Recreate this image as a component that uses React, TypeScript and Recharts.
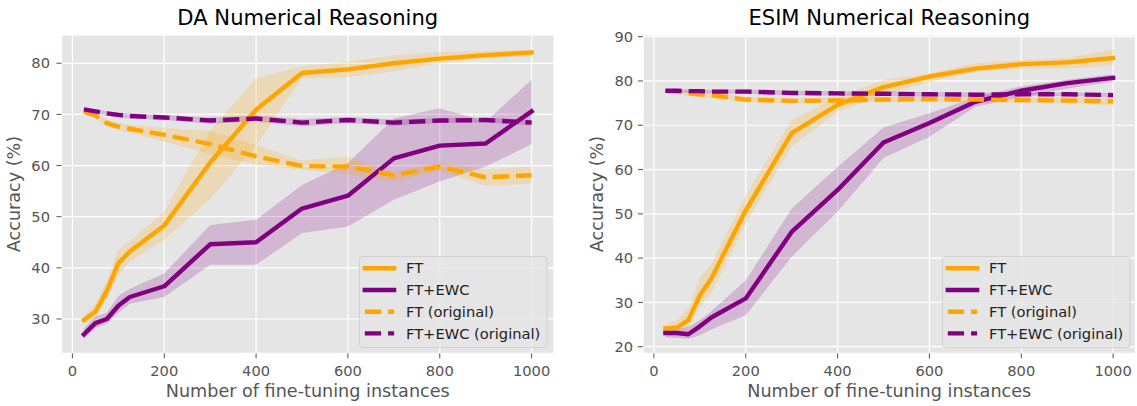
import React from 'react';
import { ComposedChart, Line, Area, XAxis, YAxis, CartesianGrid } from 'recharts';

const instances = [25, 50, 75, 100, 125, 200, 300, 400, 500, 600, 700, 800, 900, 1000];
const xTicks = [0, 200, 400, 600, 800, 1000];
const daTicks = [30, 40, 50, 60, 70, 80];
const esimTicks = [20, 30, 40, 50, 60, 70, 80, 90];
const legendLabels = ['FT', 'FT+EWC', 'FT (original)', 'FT+EWC (original)'];

// DA numerical reasoning
const daFt = [29.8, 31.4, 35.5, 40.9, 43.2, 48.3, 60.6, 70.9, 78.1, 78.8, 80.0, 80.9, 81.6, 82.1];
const daFtLow = [29.0, 30.2, 33.8, 38.5, 41.2, 45.5, 53.5, 64.0, 77.0, 77.3, 78.4, 80.0, 81.0, 81.4];
const daFtHigh = [30.6, 33.0, 37.5, 43.6, 45.2, 51.0, 66.8, 77.1, 79.4, 80.3, 81.5, 82.2, 82.4, 82.7];
const daEwc = [27.0, 29.2, 30.0, 32.6, 34.3, 36.4, 44.6, 45.0, 51.6, 54.1, 61.4, 63.9, 64.3, 70.6];
const daEwcLow = [26.1, 28.3, 29.0, 31.2, 33.0, 34.3, 40.6, 40.6, 46.8, 48.1, 53.3, 56.9, 59.8, 64.2];
const daEwcHigh = [28.2, 30.5, 31.2, 34.5, 35.9, 38.9, 48.4, 49.4, 56.2, 60.5, 69.2, 71.2, 68.6, 76.8];
const daFtOrig = [70.5, 69.8, 68.3, 67.6, 67.2, 66.0, 64.2, 61.8, 59.9, 59.8, 58.1, 59.8, 57.7, 58.1];
const daFtOrigLow = [70.2, 69.3, 67.6, 66.9, 66.4, 64.7, 62.2, 60.2, 59.2, 58.3, 56.8, 59.0, 56.0, 56.5];
const daFtOrigHigh = [70.8, 70.3, 69.0, 68.3, 68.0, 67.4, 66.8, 64.0, 61.0, 61.7, 58.8, 60.6, 59.2, 59.8];
const daEwcOrig = [71.0, 70.6, 70.2, 69.9, 69.7, 69.4, 68.8, 69.2, 68.4, 68.9, 68.4, 68.8, 68.9, 68.4];
const daEwcOrigLow = [70.6, 70.2, 69.8, 69.4, 69.2, 68.9, 68.2, 68.6, 67.7, 68.3, 67.8, 68.3, 68.4, 67.9];
const daEwcOrigHigh = [71.4, 71.0, 70.6, 70.4, 70.2, 69.9, 69.4, 69.8, 69.1, 69.5, 69.0, 69.3, 69.4, 68.9];

// ESIM numerical reasoning
const esimFt = [24.1, 24.3, 26.0, 31.6, 35.4, 50.8, 68.2, 74.6, 78.6, 81.0, 82.8, 83.8, 84.2, 85.2];
const esimFtLow = [23.3, 23.4, 24.5, 29.0, 32.0, 47.8, 65.2, 73.0, 76.8, 79.8, 82.0, 82.8, 82.8, 83.5];
const esimFtHigh = [25.2, 26.0, 28.6, 35.4, 38.8, 54.2, 71.2, 76.4, 80.2, 81.7, 84.0, 84.7, 85.2, 87.1];
const esimEwc = [23.1, 23.1, 22.8, 24.6, 26.6, 30.9, 45.9, 55.4, 66.1, 70.5, 75.3, 77.8, 79.5, 80.7];
const esimEwcLow = [22.1, 22.0, 21.8, 22.6, 23.9, 27.1, 40.3, 50.5, 62.6, 67.4, 74.2, 76.4, 78.3, 79.8];
const esimEwcHigh = [23.8, 24.0, 24.5, 26.0, 28.0, 35.0, 51.2, 60.6, 69.5, 72.7, 76.3, 78.8, 80.3, 81.5];
const esimFtOrig = [77.7, 77.6, 77.2, 77.0, 76.8, 75.8, 75.5, 75.6, 75.8, 75.9, 75.8, 75.7, 75.6, 75.4];
const esimFtOrigLow = [77.4, 77.2, 76.6, 76.3, 76.1, 75.2, 74.9, 75.0, 75.2, 75.3, 75.2, 75.0, 74.9, 74.6];
const esimFtOrigHigh = [78.0, 78.0, 77.8, 77.7, 77.5, 76.4, 76.1, 76.2, 76.4, 76.5, 76.4, 76.4, 76.3, 76.2];
const esimEwcOrig = [77.8, 77.8, 77.7, 77.7, 77.6, 77.6, 77.3, 77.2, 77.1, 77.0, 76.9, 77.0, 77.0, 76.8];
const esimEwcOrigLow = [77.4, 77.4, 77.3, 77.3, 77.2, 77.1, 76.8, 76.7, 76.6, 76.5, 76.4, 76.6, 76.6, 76.3];
const esimEwcOrigHigh = [78.2, 78.2, 78.1, 78.1, 78.0, 78.1, 77.8, 77.7, 77.6, 77.5, 77.4, 77.4, 77.4, 77.3];

const ORANGE = '#FFA500';
const PURPLE = '#800080';
const FONT = '"DejaVu Sans", sans-serif';
const LW = 4.4;
const DASH = '16.3 7';

const buildRows = (
  ft: number[], ftLo: number[], ftHi: number[],
  ewc: number[], ewcLo: number[], ewcHi: number[],
  fto: number[], ftoLo: number[], ftoHi: number[],
  ewco: number[], ewcoLo: number[], ewcoHi: number[]
) =>
  instances.map((x, i) => ({
    x,
    ft: ft[i],
    ftBand: [ftLo[i], ftHi[i]],
    ewc: ewc[i],
    ewcBand: [ewcLo[i], ewcHi[i]],
    ftOrig: fto[i],
    ftOrigBand: [ftoLo[i], ftoHi[i]],
    ewcOrig: ewco[i],
    ewcOrigBand: [ewcoLo[i], ewcoHi[i]],
  }));

const daRows = buildRows(daFt, daFtLow, daFtHigh, daEwc, daEwcLow, daEwcHigh,
  daFtOrig, daFtOrigLow, daFtOrigHigh, daEwcOrig, daEwcOrigLow, daEwcOrigHigh);
const esimRows = buildRows(esimFt, esimFtLow, esimFtHigh, esimEwc, esimEwcLow, esimEwcHigh,
  esimFtOrig, esimFtOrigLow, esimFtOrigHigh, esimEwcOrig, esimEwcOrigLow, esimEwcOrigHigh);

const HEIGHT = 406;
const PLOT_TOP = 35;
const PLOT_BOTTOM = 353.3;
const PLOT_W = 492.5;

const LegendBox: React.FC<{ left: number; top: number }> = ({ left, top }) => {
  const styles = [
    { color: ORANGE, dash: undefined },
    { color: PURPLE, dash: undefined },
    { color: ORANGE, dash: DASH },
    { color: PURPLE, dash: DASH },
  ];
  return (
    <svg width={190} height={93} style={{ position: 'absolute', left, top, overflow: 'visible' }}>
      <rect x={0.5} y={0.5} width={187.5} height={91} rx={3} fill="#E5E5E5" fillOpacity={0.8}
        stroke="#CCCCCC" strokeOpacity={0.8} />
      {legendLabels.map((label, i) => {
        const cy = 12.3 + i * 21.7;
        const s = styles[i];
        return (
          <g key={label}>
            <line x1={5.8} x2={35.1} y1={cy} y2={cy} stroke={s.color} strokeWidth={LW}
              strokeDasharray={s.dash} strokeLinecap={s.dash ? 'butt' : 'square'} />
            <text x={47} y={cy} dy="0.35em" fontSize={14.67} fontFamily={FONT} fill="#222">{label}</text>
          </g>
        );
      })}
    </svg>
  );
};

interface PanelProps {
  title: string;
  rows: ReturnType<typeof buildRows>;
  yDomain: [number, number];
  yTicks: number[];
  left: number;
  width: number;
  yAxisWidth: number;
  yTickMargin: number;
  yLabelX: number;
  legendLeft: number;
}

const Panel: React.FC<PanelProps> = ({
  title, rows, yDomain, yTicks, left, width, yAxisWidth, yTickMargin, yLabelX, legendLeft,
}) => {
  const plotCenter = left + yAxisWidth + PLOT_W / 2;
  const marginRight = width - yAxisWidth - PLOT_W;
  return (
    <>
      <div style={{ position: 'absolute', left, top: 0 }}>
        <ComposedChart width={width} height={HEIGHT} data={rows}
          margin={{ top: PLOT_TOP, right: marginRight, bottom: 0, left: 0 }}>
          <CartesianGrid stroke="#FFFFFF" strokeWidth={1.2} fill="#E5E5E5" fillOpacity={1} />
          <XAxis type="number" dataKey="x" domain={[-23.75, 1048.75]} ticks={xTicks}
            allowDataOverflow height={HEIGHT - PLOT_BOTTOM} axisLine={false}
            tickSize={5} tickMargin={7.5} tickLine={{ stroke: '#555555', strokeWidth: 1 }}
            tick={{ fill: '#555555', fontSize: 14.67, fontFamily: FONT }} interval={0} />
          <YAxis type="number" domain={yDomain} ticks={yTicks} allowDataOverflow
            width={yAxisWidth} axisLine={false} tickSize={5} tickMargin={yTickMargin}
            tickLine={{ stroke: '#555555', strokeWidth: 1 }}
            tick={{ fill: '#555555', fontSize: 14.67, fontFamily: FONT }} interval={0} />
          <Area type="linear" dataKey="ftBand" stroke="none" fill={ORANGE} fillOpacity={0.2}
            isAnimationActive={false} activeDot={false} />
          <Area type="linear" dataKey="ewcBand" stroke="none" fill={PURPLE} fillOpacity={0.2}
            isAnimationActive={false} activeDot={false} />
          <Area type="linear" dataKey="ftOrigBand" stroke="none" fill={ORANGE} fillOpacity={0.2}
            isAnimationActive={false} activeDot={false} />
          <Area type="linear" dataKey="ewcOrigBand" stroke="none" fill={PURPLE} fillOpacity={0.2}
            isAnimationActive={false} activeDot={false} />
          <Line type="linear" dataKey="ft" stroke={ORANGE} strokeWidth={LW} dot={false}
            activeDot={false} strokeLinecap="square" strokeLinejoin="round" isAnimationActive={false} />
          <Line type="linear" dataKey="ewc" stroke={PURPLE} strokeWidth={LW} dot={false}
            activeDot={false} strokeLinecap="square" strokeLinejoin="round" isAnimationActive={false} />
          <Line type="linear" dataKey="ftOrig" stroke={ORANGE} strokeWidth={LW} dot={false}
            activeDot={false} strokeDasharray={DASH} strokeLinejoin="round" isAnimationActive={false} />
          <Line type="linear" dataKey="ewcOrig" stroke={PURPLE} strokeWidth={LW} dot={false}
            activeDot={false} strokeDasharray={DASH} strokeLinejoin="round" isAnimationActive={false} />
        </ComposedChart>
      </div>
      <div style={{
        position: 'absolute', left: plotCenter, top: 18.3, transform: 'translate(-50%, -50%)',
        fontSize: 21.1, lineHeight: 1, whiteSpace: 'nowrap', color: '#000', fontFamily: FONT,
      }}>{title}</div>
      <div style={{
        position: 'absolute', left: plotCenter, top: 392.3, transform: 'translate(-50%, -50%)',
        fontSize: 17.6, lineHeight: 1, whiteSpace: 'nowrap', color: '#555555', fontFamily: FONT,
      }}>Number of fine-tuning instances</div>
      <div style={{
        position: 'absolute', left: yLabelX, top: (PLOT_TOP + PLOT_BOTTOM) / 2,
        transform: 'translate(-50%, -50%) rotate(-90deg)',
        fontSize: 17.6, lineHeight: 1, whiteSpace: 'nowrap', color: '#555555', fontFamily: FONT,
      }}>Accuracy (%)</div>
      <LegendBox left={legendLeft} top={256} />
    </>
  );
};

const App: React.FC = () => (
  <div style={{
    position: 'fixed', left: 0, top: 0, width: 1137, height: HEIGHT,
    background: '#FFFFFF', overflow: 'hidden', fontFamily: FONT,
  }}>
    <Panel title="DA Numerical Reasoning" rows={daRows} yDomain={[23.29, 85.53]} yTicks={daTicks}
      left={0} width={570} yAxisWidth={61.5} yTickMargin={6.5} yLabelX={15} legendLeft={359} />
    <Panel title="ESIM Numerical Reasoning" rows={esimRows} yDomain={[18.51, 90.38]} yTicks={esimTicks}
      left={570} width={567} yAxisWidth={73} yTickMargin={4.8} yLabelX={598} legendLeft={941.7} />
  </div>
);

export default App;
